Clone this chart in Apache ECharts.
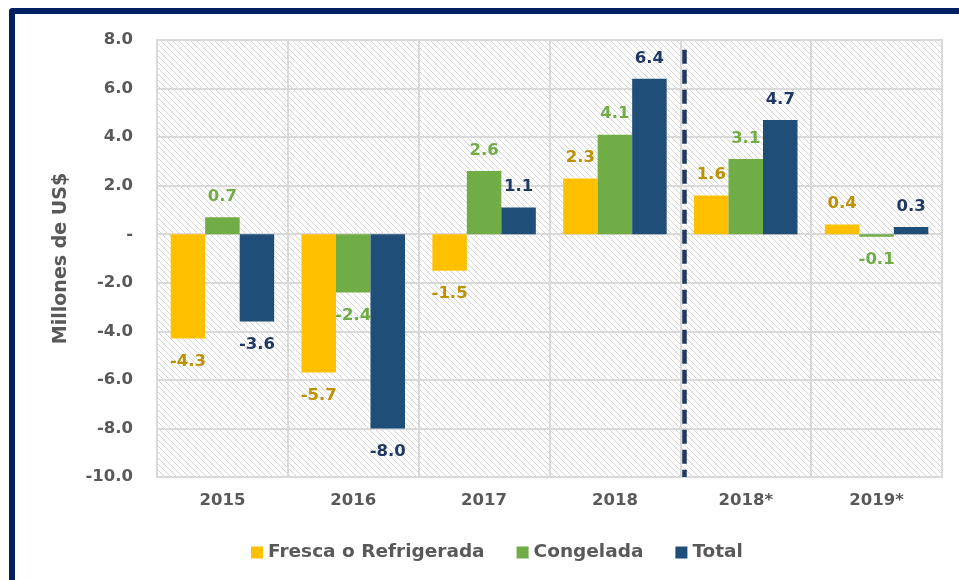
<!DOCTYPE html>
<html>
<head>
<meta charset="utf-8">
<script src="https://cdn.jsdelivr.net/npm/echarts@6/dist/echarts.min.js"></script>
<style>
    html, body { margin: 0; padding: 0; background: #fff; overflow: hidden; }
    #chart { width: 959px; height: 580px; }
</style>
</head>
<body>
<div id="chart"></div>
<script>
const years = ['2015', '2016', '2017', '2018', '2018*', '2019*'];
const fresca = [-4.3, -5.7, -1.5, 2.3, 1.6, 0.4];
const congelada = [0.7, -2.4, 2.6, 4.1, 3.1, -0.1];
const total = [-3.6, -8.0, 1.1, 6.4, 4.7, 0.3];
const seriesNames = ['Fresca o Refrigerada', 'Congelada', 'Total'];
// position of the dashed separator between 2018 and 2018*
const separatorAt = 4.03;

const font = 'DejaVu Sans';
const gray = '#595959';
const frameColor = '#002060';

// light downward diagonal hatch for the plot area
let hatch = document.createElement('canvas');
hatch.width = 6;
hatch.height = 6;
let hctx = hatch.getContext('2d');
hctx.fillStyle = '#ffffff';
hctx.fillRect(0, 0, 6, 6);
hctx.fillStyle = '#d4d4d4';
for (let i = 0; i < 6; i++) hctx.fillRect(i, i, 1, 1);

function barData(values) {
    return values.map(v => ({
        value: v,
        label: { position: v < 0 ? 'bottom' : 'top', distance: v < 0 ? 15 : 12 }
    }));
}

function barSeries(name, values, color, labelColor) {
    return {
        name: name,
        type: 'bar',
        barWidth: 34.5,
        barGap: '0%',
        data: barData(values),
        itemStyle: { color: color },
        label: {
            show: true,
            formatter: p => p.value.toFixed(1),
            color: labelColor,
            fontFamily: font,
            fontWeight: 'bold',
            fontSize: 16.5
        }
    };
}

let chart = echarts.init(document.getElementById('chart'));

let option = {
    animation: false,
    backgroundColor: '#fff',
    textStyle: { fontFamily: font },
    // navy frame on the top and left edges of the picture
    graphic: [
        { type: 'rect', left: 9, top: 8, shape: { width: 960, height: 6, r: [4, 0, 0, 0] }, style: { fill: frameColor }, silent: true },
        { type: 'rect', left: 9, top: 8, shape: { width: 6, height: 580, r: [4, 0, 0, 0] }, style: { fill: frameColor }, silent: true }
    ],
    grid: {
        left: 157, right: 17, top: 40, bottom: 103,
        show: true,
        backgroundColor: { image: hatch, repeat: 'repeat' },
        borderColor: '#d9d9d9',
        borderWidth: 2
    },
    legend: {
        data: seriesNames,
        left: 246,
        top: 538,
        itemWidth: 12,
        itemHeight: 12,
        itemGap: 32,
        icon: 'rect',
        textStyle: { color: gray, fontFamily: font, fontWeight: 'bold', fontSize: 18.5 }
    },
    xAxis: [
        {
            type: 'category',
            data: years,
            axisLine: { show: false, onZero: false },
            axisTick: { show: false },
            splitLine: { show: true, interval: 0, lineStyle: { color: '#d9d9d9', width: 2 } },
            axisLabel: {
                color: gray, fontFamily: font, fontWeight: 'bold', fontSize: 16.5, margin: 15
            }
        },
        { type: 'value', min: 0, max: 6, show: false }
    ],
    yAxis: {
        type: 'value',
        min: -10,
        max: 8,
        interval: 2,
        name: 'Millones de US$',
        nameLocation: 'middle',
        nameGap: 86,
        nameTextStyle: { color: gray, fontFamily: font, fontWeight: 'bold', fontSize: 19 },
        axisLine: { show: false },
        axisTick: { show: false },
        splitLine: { lineStyle: { color: '#d9d9d9', width: 2 } },
        axisLabel: {
            color: gray, fontFamily: font, fontWeight: 'bold', fontSize: 16.5, margin: 24,
            formatter: v => v === 0 ? '-' : v.toFixed(1)
        }
    },
    series: [
        barSeries(seriesNames[0], fresca, '#FFC000', '#BF9000'),
        barSeries(seriesNames[1], congelada, '#70AD47', '#70AD47'),
        barSeries(seriesNames[2], total, '#1F4E79', '#203864'),
        {
            type: 'scatter',
            xAxisIndex: 1,
            data: [],
            silent: true,
            markLine: {
                symbol: 'none',
                silent: true,
                label: { show: false },
                lineStyle: { type: [14, 6], width: 4.5, color: '#1F3864' },
                data: [[{ coord: [separatorAt, 7.6] }, { coord: [separatorAt, -10] }]]
            }
        }
    ]
};

chart.setOption(option);

window.addEventListener('resize', () => {
    chart.resize();
});
</script>
</body>
</html>
